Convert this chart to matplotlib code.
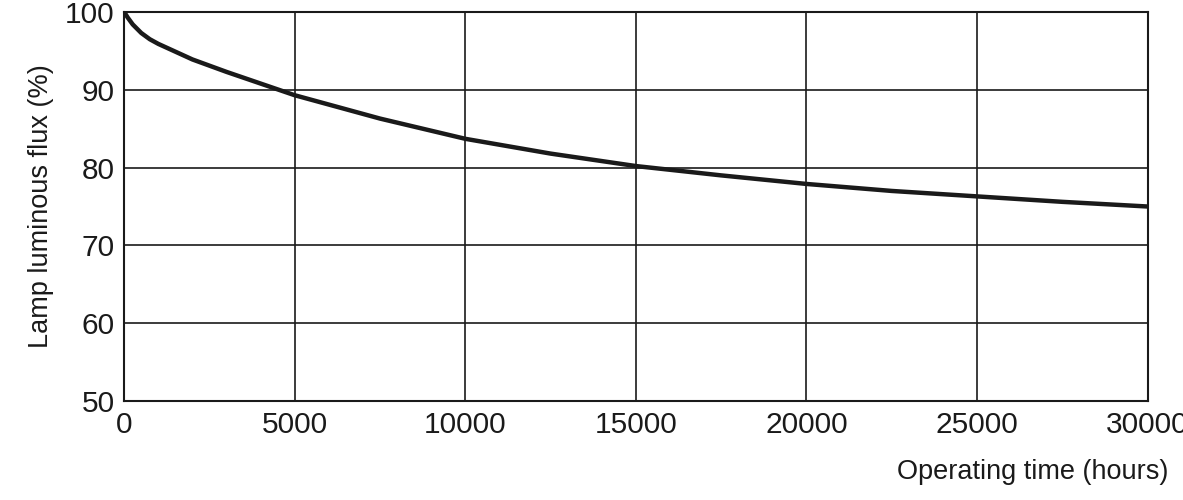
import matplotlib
matplotlib.use("Agg")
import matplotlib.pyplot as plt

hours = [0, 100, 250, 500, 750, 1000, 1500, 2000, 3000, 4000, 5000, 7500, 10000, 12500, 15000, 17500, 20000, 22500, 25000, 27500, 30000]
flux = [100, 99.3, 98.4, 97.3, 96.5, 95.9, 94.9, 93.9, 92.3, 90.8, 89.3, 86.3, 83.7, 81.8, 80.2, 79.0, 77.9, 77.0, 76.3, 75.6, 75.0]
xticks = [0, 5000, 10000, 15000, 20000, 25000, 30000]
yticks = [50, 60, 70, 80, 90, 100]

plt.rcParams['font.family'] = ['Liberation Sans', 'DejaVu Sans']
fig = plt.figure(figsize=(11.83, 5), dpi=100)
ax = fig.add_axes([0.105, 0.198, 0.865, 0.778])
ax.plot(hours, flux, color='#1a1a1a', lw=3.2, solid_capstyle='butt')
ax.set_xlim(0, 30000)
ax.set_ylim(50, 100)
ax.set_xticks(xticks)
ax.set_yticks(yticks)
ax.tick_params(labelsize=21.5, length=0, pad=7, colors='#1a1a1a')
ax.grid(True, color='#1a1a1a', lw=1.2)
for s in ax.spines.values():
    s.set_linewidth(1.5)
    s.set_color('#1a1a1a')
ax.set_ylabel('Lamp luminous flux (%)', fontsize=19.5, color='#1a1a1a', labelpad=8)
fig.text(0.988, 0.03, 'Operating time (hours)', ha='right', va='bottom', fontsize=19.5, color='#1a1a1a')
fig.savefig('out.png', dpi=100)
